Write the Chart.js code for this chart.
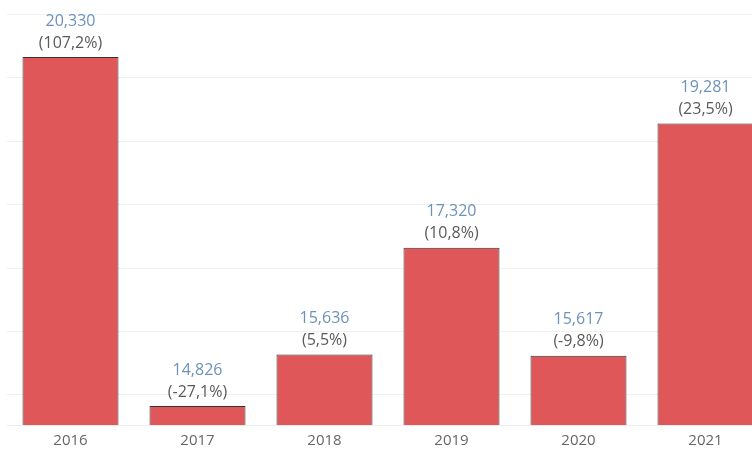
<!DOCTYPE html>
<html>
<head>
<meta charset="utf-8">
<script src="https://cdn.jsdelivr.net/npm/chart.js@4/dist/chart.umd.min.js"></script>
<style>
  html, body { margin: 0; padding: 0; background: #fff; overflow: hidden; }
  #wrap { width: 769px; height: 457px; position: relative; }
</style>
</head>
<body>
<div id="wrap"><canvas id="chart"></canvas></div>
<script>
// Data
const years = ['2016', '2017', '2018', '2019', '2020', '2021'];
const values = [20330, 14826, 15636, 17320, 15617, 19281];
const changes = ['(107,2%)', '(-27,1%)', '(5,5%)', '(10,8%)', '(-9,8%)', '(23,5%)'];
const gridTicks = [15000, 16000, 17000, 18000, 19000, 20000, 21000];

const FONT = '"Open Sans", "Noto Sans", sans-serif';

// draws the value + yoy change above each bar
const barLabels = {
  id: 'barLabels',
  afterDatasetsDraw(chart) {
    const ctx = chart.ctx;
    const meta = chart.getDatasetMeta(0);
    ctx.save();
    ctx.textAlign = 'center';
    ctx.textBaseline = 'middle';
    ctx.font = '16px ' + FONT;
    meta.data.forEach((bar, i) => {
      ctx.fillStyle = '#6d92ba';
      ctx.fillText(values[i].toLocaleString('en-US'), bar.x, bar.y - 36);
      ctx.fillStyle = '#5a5a5a';
      ctx.fillText(changes[i], bar.x, bar.y - 14);
    });
    ctx.restore();
  }
};

const ctx = document.getElementById('chart').getContext('2d');
const chart = new Chart(ctx, {
  type: 'bar',
  data: {
    labels: years,
    datasets: [{
      data: values,
      backgroundColor: '#e05759',
      borderColor: '#333333',
      borderWidth: 1,
      borderSkipped: false,
      categoryPercentage: 1,
      barPercentage: 0.756
    }]
  },
  options: {
    responsive: true,
    maintainAspectRatio: false,
    animation: false,
    layout: { padding: { left: 7, right: 0, top: 0, bottom: 0 } },
    plugins: { legend: { display: false }, tooltip: { enabled: false } },
    scales: {
      x: {
        grid: { display: false, drawTicks: false },
        border: { display: true, color: '#ececec', dash: [2, 2] },
        ticks: { color: '#666', font: { family: FONT, size: 15 }, padding: 7 }
      },
      y: {
        min: 14526,
        max: 21228,
        afterBuildTicks: (axis) => { axis.ticks = gridTicks.map(v => ({ value: v })); },
        grid: { color: '#f0f0f0', drawTicks: false },
        border: { display: false },
        ticks: { display: false }
      }
    }
  },
  plugins: [barLabels]
});
</script>
</body>
</html>
